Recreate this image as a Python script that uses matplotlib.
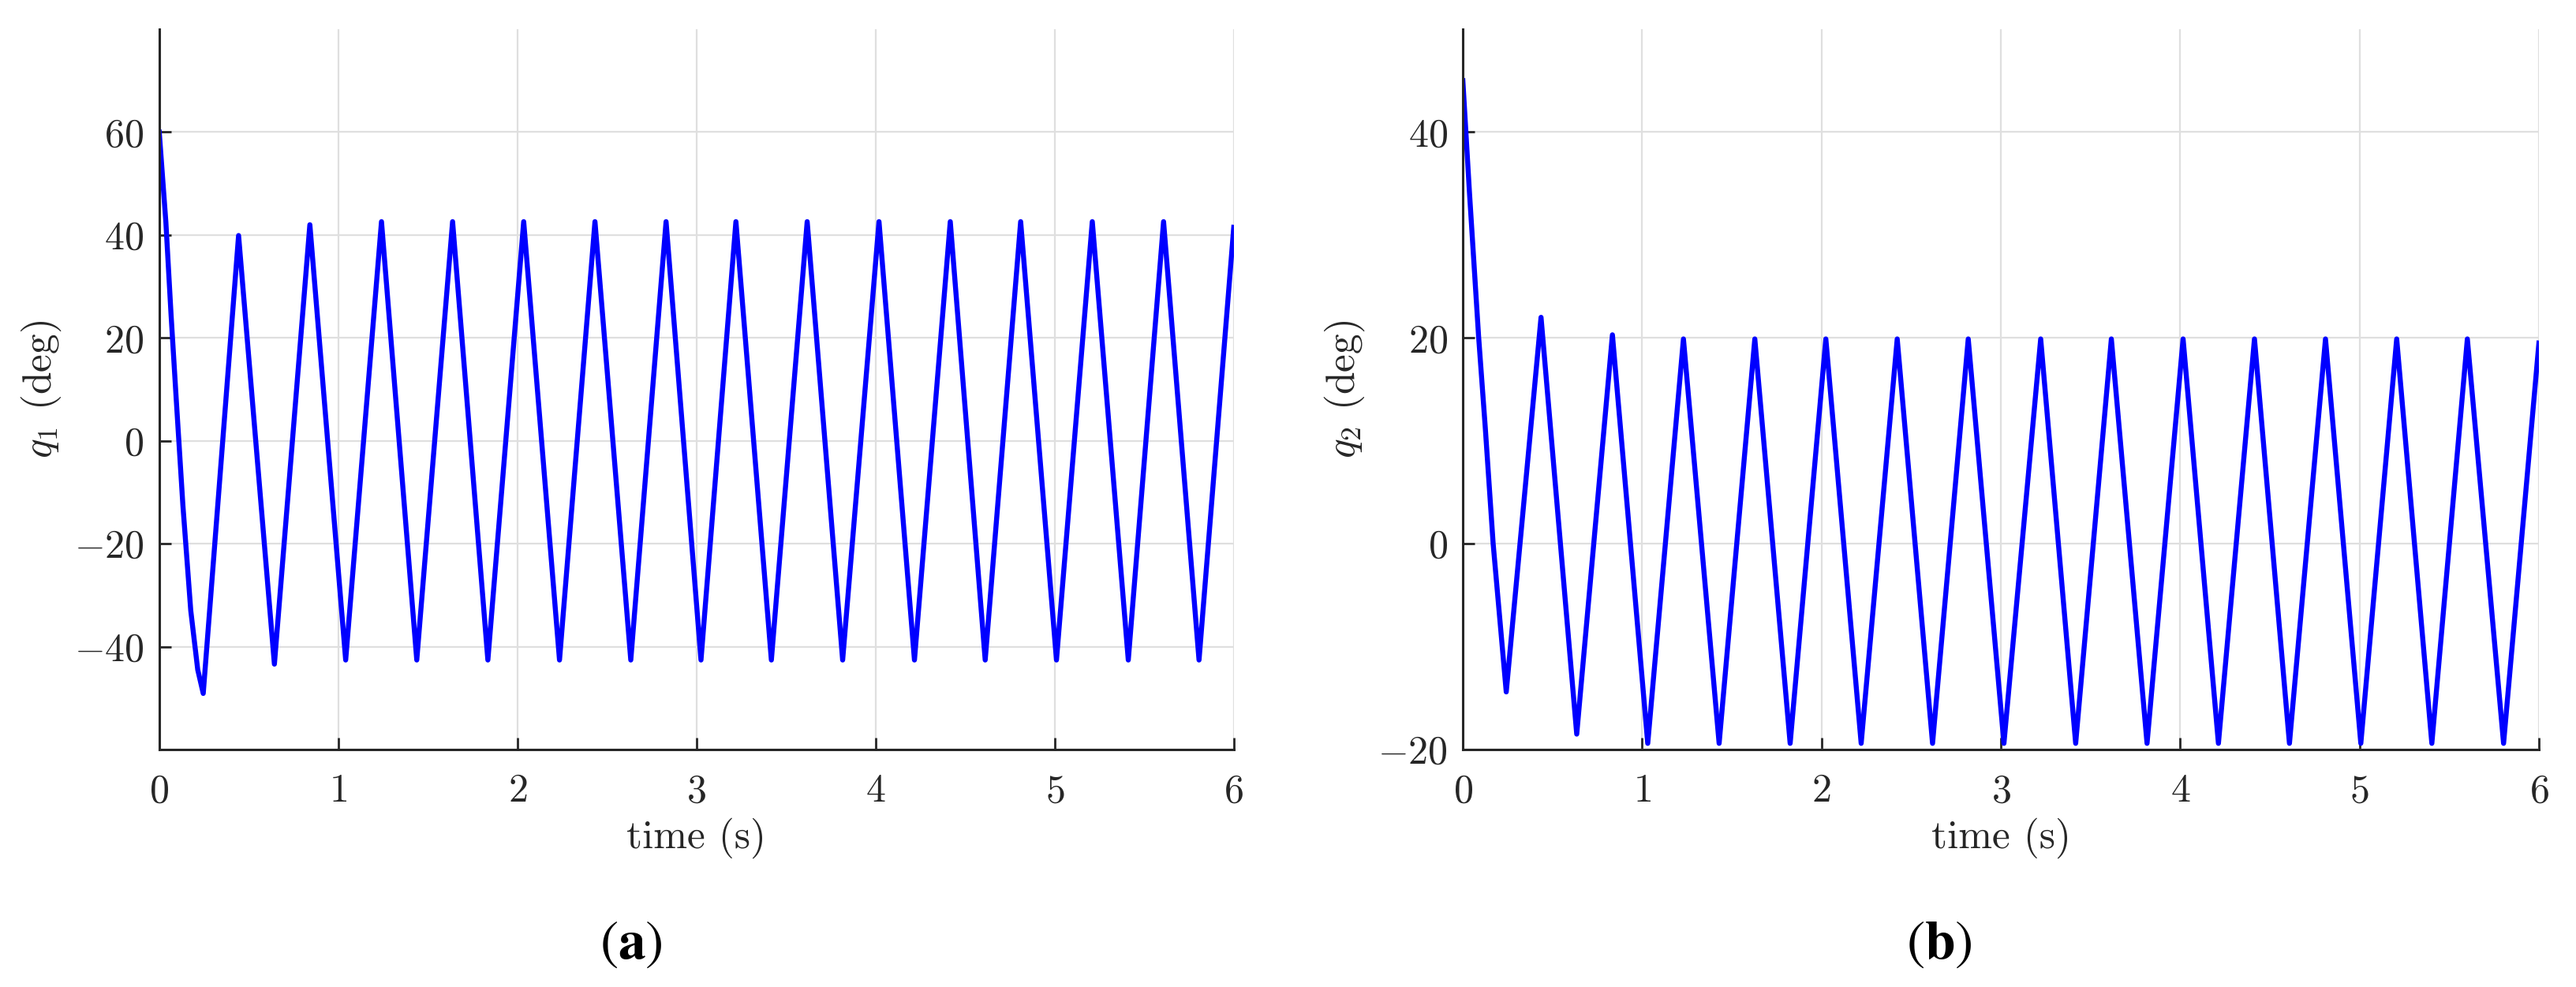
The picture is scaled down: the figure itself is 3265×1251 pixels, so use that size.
import matplotlib
matplotlib.use("Agg")
import matplotlib.pyplot as plt

# values (extrema of the oscillation, plus a few points on the first swing)

t_a = [0, 0.037, 0.066, 0.095, 0.132, 0.176, 0.215, 0.2456, 0.443, 0.643, 0.841, 1.041, 1.241, 1.438,
       1.638, 1.835, 2.035, 2.235, 2.433, 2.633, 2.830, 3.025, 3.220, 3.418, 3.618, 3.816,
       4.019, 4.217, 4.417, 4.612, 4.810, 5.010, 5.210, 5.411, 5.608, 5.806, 6.0]
q1 = [60.0, 42.5, 24.5, 8.0, -12.5, -33.0, -44.5, -49.1, 39.9, -43.4, 42.0, -42.6, 42.6, -42.6,
      42.6, -42.6, 42.6, -42.6, 42.6, -42.6, 42.6, -42.6, 42.6, -42.6, 42.6, -42.6,
      42.6, -42.6, 42.6, -42.6, 42.6, -42.6, 42.6, -42.6, 42.6, -42.6, 41.5]

t_b = [0, 0.037, 0.088, 0.125, 0.169, 0.242, 0.436, 0.635, 0.834, 1.031, 1.230, 1.429,
       1.628, 1.825, 2.024, 2.221, 2.422, 2.619, 2.818, 3.017, 3.222, 3.417, 3.616, 3.815,
       4.016, 4.213, 4.414, 4.609, 4.810, 5.007, 5.207, 5.403, 5.601, 5.803, 6.0]
q2 = [45.0, 34.1, 20.1, 11.3, 0.0, -14.4, 22.0, -18.5, 20.3, -19.4, 19.9, -19.4,
      19.9, -19.4, 19.9, -19.4, 19.9, -19.4, 19.9, -19.4, 19.9, -19.4, 19.9, -19.4,
      19.9, -19.4, 19.9, -19.4, 19.9, -19.4, 19.9, -19.4, 19.9, -19.4, 19.5]

xticks = [0, 1, 2, 3, 4, 5, 6]
yticks_a = [-40, -20, 0, 20, 40, 60]
yticks_b = [-20, 0, 20, 40]

plt.rcParams['font.family'] = ['cmr10']
plt.rcParams['mathtext.fontset'] = 'cm'
plt.rcParams['axes.formatter.use_mathtext'] = True
plt.rcParams['axes.unicode_minus'] = True

dark = '#262626'
fig = plt.figure(figsize=(32.66, 12.51), dpi=100)

ax1 = fig.add_axes([0.0618, 0.2406, 0.4170, 0.7298])
ax2 = fig.add_axes([0.5677, 0.2406, 0.4176, 0.7298])

panels = [
    (ax1, t_a, q1, (-60, 80), yticks_a, r'$q_1$ (deg)'),
    (ax2, t_b, q2, (-20, 50), yticks_b, r'$q_2$ (deg)'),
]

for ax, t, q, ylim, yt, ylab in panels:
    ax.plot(t, q, color='#0000ff', linewidth=4.6, solid_joinstyle='round')
    ax.set_xlim(0, 6)
    ax.set_ylim(*ylim)
    ax.set_xticks(xticks)
    ax.set_yticks(yt)
    ax.grid(True, color='#dfdfdf', linewidth=1.6)
    ax.set_axisbelow(True)
    for s in ['top', 'right']:
        ax.spines[s].set_visible(False)
    for s in ['left', 'bottom']:
        ax.spines[s].set_color(dark)
        ax.spines[s].set_linewidth(2.2)
    ax.tick_params(direction='in', length=11, width=2.0, colors=dark,
                   labelsize=36, pad=14)
    ax.tick_params(axis='x', pad=22)
    ax.set_xlabel('time (s)', fontsize=37, color=dark)
    ax.xaxis.set_label_coords(0.5, -0.1227)
    ax.xaxis.label.set_va('center')
    ax.set_ylabel(ylab, fontsize=37, color=dark)
    ax.yaxis.set_label_coords(-0.110, 0.5)
    ax.yaxis.label.set_va('center')

fig.text(800 / 3266, 1 - 1197 / 1251, r'$\mathrm{(}\mathbf{a}\mathrm{)}$',
         fontsize=50, ha='center', va='center', math_fontfamily='stix')
fig.text(2458 / 3266, 1 - 1197 / 1251, r'$\mathrm{(}\mathbf{b}\mathrm{)}$',
         fontsize=50, ha='center', va='center', math_fontfamily='stix')

fig.savefig('out.png', dpi=100)
